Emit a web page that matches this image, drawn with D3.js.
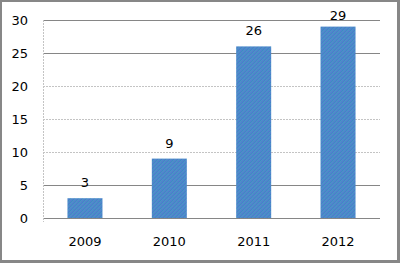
<!DOCTYPE html>
<html>
<head>
<meta charset="utf-8">
<script src="https://cdn.jsdelivr.net/npm/d3@7"></script>
<style>
  body { margin: 0; padding: 0; background: #fff; }
  svg { display: block; }
  text { font-family: "DejaVu Sans", sans-serif; font-size: 13px; fill: #000; }
</style>
</head>
<body>
<script>
var years = ["2009", "2010", "2011", "2012"];
var counts = [3, 9, 26, 29];
var yTicks = [0, 5, 10, 15, 20, 25, 30];
// which gridlines come out dark in the original (the rest are faint/dotted)
var darkTicks = [0, 5, 25, 30];

var W = 400, H = 263;
// note: "top" clashes with window.top, so plot edges get their own names
var plotL = 43, plotR = 380, plotT = 20, plotB = 218;

var svg = d3.select("body").append("svg")
    .attr("width", W)
    .attr("height", H);

// frame with a shadowed right/bottom edge
svg.append("rect").attr("width", W).attr("height", H).attr("fill", "#878787");
svg.append("rect").attr("x", 2).attr("y", 2).attr("width", 395).attr("height", 258).attr("fill", "#fff");

// noisy blue fill like the original bars
var defs = svg.append("defs");
var pat = defs.append("pattern")
    .attr("id", "barfill")
    .attr("patternUnits", "userSpaceOnUse")
    .attr("width", 4).attr("height", 4);
var cells = [
  ["#4a78cc", "#44a0c0", "#5a7ad2", "#4494c6"],
  ["#42a2be", "#5878d0", "#4a8ec6", "#4f74cc"],
  ["#5a7cd2", "#4494c6", "#4a78cc", "#40a2c0"],
  ["#4a8ec6", "#4f74cc", "#44a0c0", "#5a7ad2"]
];
cells.forEach(function(row, j) {
  row.forEach(function(c, i) {
    pat.append("rect").attr("x", i).attr("y", j).attr("width", 1).attr("height", 1).attr("fill", c);
  });
});

var x = d3.scaleBand().domain(years).range([plotL, plotR]).paddingInner(0.585).paddingOuter(0.29);
var y = d3.scaleLinear().domain([0, 30]).range([plotB, plotT]);

// gridlines
svg.append("g").selectAll("line")
    .data(yTicks)
    .join("line")
    .attr("x1", plotL).attr("x2", plotR)
    .attr("y1", d => Math.round(y(d)) + 0.5)
    .attr("y2", d => Math.round(y(d)) + 0.5)
    .attr("stroke", d => darkTicks.indexOf(d) >= 0 ? "#868686" : "#c4c4c4")
    .attr("stroke-dasharray", d => darkTicks.indexOf(d) >= 0 ? null : "2,1");

// faint vertical axis
svg.append("line")
    .attr("x1", plotL + 0.5).attr("x2", plotL + 0.5)
    .attr("y1", plotT).attr("y2", plotB + 4)
    .attr("stroke", "#c4c4c4")
    .attr("stroke-dasharray", "2,1");

// bars
svg.append("g").selectAll("rect")
    .data(counts)
    .join("rect")
    .attr("x", (d, i) => x(years[i]))
    .attr("y", d => y(d))
    .attr("width", x.bandwidth())
    .attr("height", d => y(0) - y(d))
    .attr("fill", "url(#barfill)");

// value labels
svg.append("g").selectAll("text")
    .data(counts)
    .join("text")
    .attr("x", (d, i) => x(years[i]) + x.bandwidth() / 2)
    .attr("y", d => Math.max(y(d) - 11, 20))
    .attr("text-anchor", "middle")
    .text(d => d);

// y tick labels
svg.append("g").selectAll("text")
    .data(yTicks)
    .join("text")
    .attr("x", 28)
    .attr("y", d => y(d) + 5)
    .attr("text-anchor", "end")
    .text(d => d);

// x labels
svg.append("g").selectAll("text")
    .data(years)
    .join("text")
    .attr("x", d => x(d) + x.bandwidth() / 2)
    .attr("y", 246)
    .attr("text-anchor", "middle")
    .text(d => d);
</script>
</body>
</html>
